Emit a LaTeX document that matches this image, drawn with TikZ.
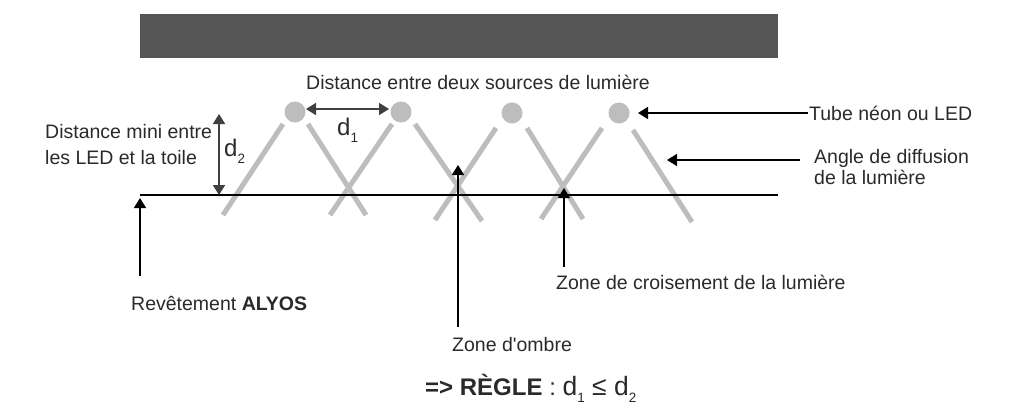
\documentclass[tikz,border=0pt]{standalone}
\usepackage{fontspec}
\setmainfont{Liberation Sans}
\usetikzlibrary{arrows.meta}
\definecolor{txt}{HTML}{2A2A2A}
\definecolor{beam}{HTML}{BDBDBD}
\definecolor{bar}{HTML}{555555}
\tikzset{
  lbl/.style={font=\fontsize{19.5}{26}\selectfont,text=txt,inner sep=0pt,align=left},
  dlbl/.style={font=\fontsize{24}{26}\selectfont,text=txt,inner sep=0pt},
  led/.style={circle,fill=beam,minimum size=21pt,inner sep=0pt},
  beamline/.style={draw=beam,line width=5pt},
  pointer/.style={draw=black,line width=1.5pt,-{Triangle[width=12pt,length=10pt]}},
  dim/.style={draw=black!75,line width=1.7pt,{Triangle[width=12pt,length=10pt]}-{Triangle[width=12pt,length=10pt]}},
  x=1pt,y=-1pt
}
\newcommand{\sbs}[1]{\raisebox{-7pt}{\fontsize{13.5}{14}\selectfont #1}}
\begin{document}
\begin{tikzpicture}
\useasboundingbox (0,0) rectangle (1024,410);
\fill[white] (0,0) rectangle (1024,410);
\node[fill=bar,minimum width=638pt,minimum height=44pt,inner sep=0pt] (ceiling) at (459,36) {};
% beams
\foreach \a/\b/\c/\d in {283/124/223/215,308/124/366/215,392/124/330/215,415/124/482/221,496/128/435/220,527/128/583/219,602/128/541/219,633/130/692/222}
  \draw[beamline] (\a,\b) -- (\c,\d);
\coordinate (wallL) at (140,195);
\coordinate (wallR) at (778,195);
\draw[black,line width=1.5pt] (wallL) -- (wallR);
\node[led] (l1) at (295,112) {};
\node[led] (l2) at (401,112) {};
\node[led] (l3) at (512,113) {};
\node[led] (l4) at (619,113) {};
\coordinate (d1a) at (306,109); \coordinate (d1b) at (389,109);
\draw[dim] (d1a) -- (d1b);
\coordinate (d2a) at (219,114); \coordinate (d2b) at (219,195);
\draw[dim] (d2a) -- (d2b);
% labels
\node[lbl,anchor=west] (t1) at (306,82) {Distance entre deux sources de lumière};
\node[dlbl,anchor=west] (d1) at (337,130) {d\sbs{1}};
\node[dlbl,anchor=west] (d2) at (224,151) {d\sbs{2}};
\node[lbl,anchor=west] (t2) at (45,145) {Distance mini entre\\les LED et la toile};
\node[lbl,anchor=west] (t3) at (809,113) {Tube néon ou LED};
\node[lbl,anchor=west] (t4) at (814,167) {\shortstack[l]{Angle de diffusion\\[-1pt]de la lumière}};
\node[lbl,anchor=west] (t5) at (131,303) {Revêtement \textbf{ALYOS}};
\node[lbl,anchor=west] (t6) at (556,282) {Zone de croisement de la lumière};
\node[lbl,anchor=west] (t7) at (452,345) {Zone d\textquotesingle ombre};
\node[anchor=west,inner sep=0pt,text=txt,font=\fontsize{24}{28}\selectfont] (t8) at (425,388) {\textbf{=> RÈGLE} : {\fontsize{26.5}{28}\selectfont d\sbs{1} ≤ d\sbs{2}}};
% pointers
\coordinate (p1) at (808,113); \coordinate (p1e) at (638,113);
\coordinate (p2) at (800,160); \coordinate (p2e) at (667,160);
\coordinate (p3) at (140,276); \coordinate (p3e) at (140,198);
\coordinate (p4) at (458,327); \coordinate (p4e) at (458,165);
\coordinate (p5) at (564,267); \coordinate (p5e) at (564,188);
\draw[pointer] (p1) -- (p1e);
\draw[pointer] (p2) -- (p2e);
\draw[pointer] (p3) -- (p3e);
\draw[pointer] (p4) -- (p4e);
\draw[pointer] (p5) -- (p5e);
\end{tikzpicture}
\end{document}
